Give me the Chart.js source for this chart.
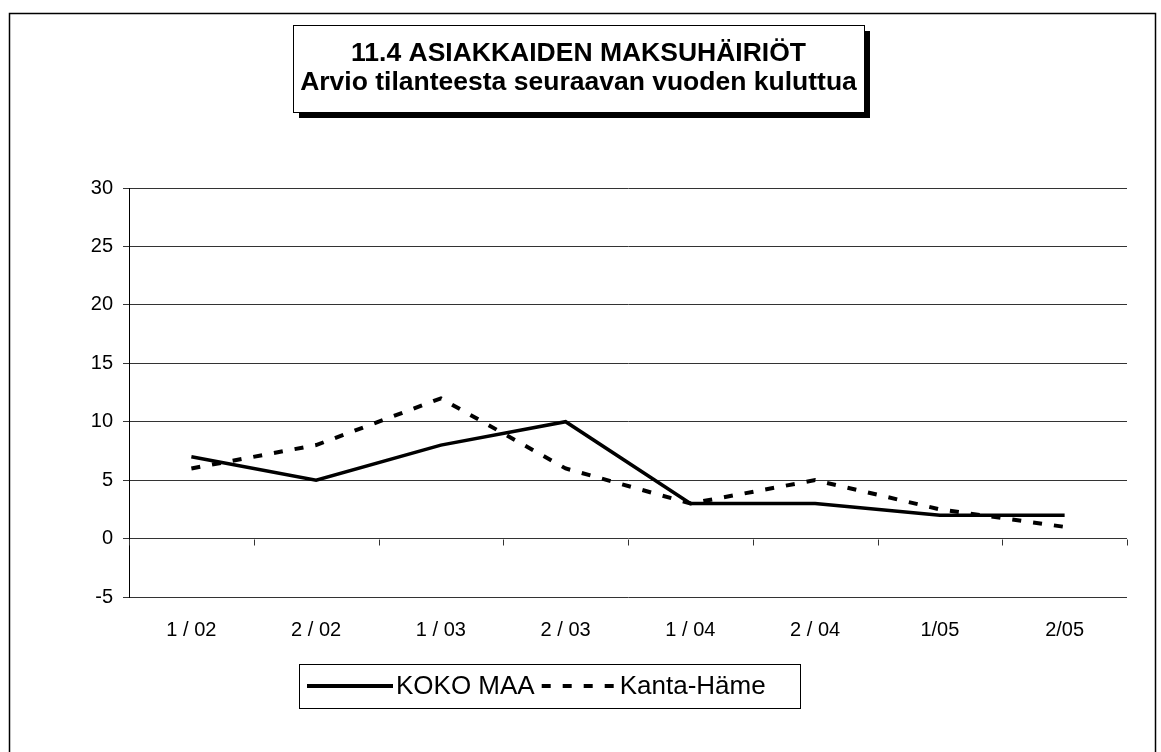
<!DOCTYPE html>
<html>
<head>
<meta charset="utf-8">
<script src="https://cdn.jsdelivr.net/npm/chart.js@4/dist/chart.umd.min.js"></script>
<style>
    html, body { margin: 0; padding: 0; background: #fff; }
    #wrap { width: 1161px; height: 752px; }
</style>
</head>
<body>
<div id="wrap"><canvas id="chart" width="1161" height="752"></canvas></div>
<script>
const categories = ['1 / 02', '2 / 02', '1 / 03', '2 / 03', '1 / 04', '2 / 04', '1/05', '2/05'];
const kokoMaa = [7, 5, 8, 10, 3, 3, 2, 2];
const kantaHame = [6, 8, 12, 6, 3, 5, 2.5, 1];
const seriesNames = ['KOKO MAA', 'Kanta-Häme'];
const titleLines = ['11.4 ASIAKKAIDEN MAKSUHÄIRIÖT', 'Arvio tilanteesta seuraavan vuoden kuluttua'];
const yMin = -5, yMax = 30, yStep = 5;

const FONT = 'Arial, "Liberation Sans", sans-serif';

// kehys, otsikkolaatikko, selite ja x-akselin väkäset nollaviivalla
const excelLook = {
    id: 'excelLook',
    beforeDraw(chart) {
        const ctx = chart.ctx;
        ctx.save();
        ctx.fillStyle = '#fff';
        ctx.fillRect(0, 0, chart.width, chart.height);
        ctx.strokeStyle = '#000';
        ctx.lineWidth = 1.5;
        ctx.strokeRect(9.5, 13.5, 1146, 760);
        ctx.restore();
    },
    afterDraw(chart) {
        const ctx = chart.ctx;
        const xs = chart.scales.x, ys = chart.scales.y;
        ctx.save();

        // väkäset nollan kohdalla
        const y0 = Math.round(ys.getPixelForValue(0)) + 0.5;
        const n = categories.length;
        ctx.strokeStyle = '#333';
        ctx.lineWidth = 1;
        ctx.beginPath();
        for (let i = 0; i <= n; i++) {
            const x = Math.round(xs.left + i * xs.width / n) + 0.5;
            ctx.moveTo(x, y0);
            ctx.lineTo(x, y0 + 6);
        }
        ctx.stroke();

        // otsikko varjon kanssa
        const tb = { x: 293, y: 25, w: 571, h: 87 };
        ctx.fillStyle = '#000';
        ctx.fillRect(tb.x + 6, tb.y + 6, tb.w, tb.h);
        ctx.fillStyle = '#fff';
        ctx.fillRect(tb.x, tb.y, tb.w, tb.h);
        ctx.strokeStyle = '#000';
        ctx.lineWidth = 1;
        ctx.strokeRect(tb.x + 0.5, tb.y + 0.5, tb.w, tb.h);
        ctx.fillStyle = '#000';
        ctx.font = 'bold 26.5px ' + FONT;
        ctx.textAlign = 'center';
        ctx.textBaseline = 'middle';
        titleLines.forEach((line, i) => {
            ctx.fillText(line, tb.x + tb.w / 2, 54 + i * 29);
        });

        // selite
        const lb = { x: 299, y: 664, w: 501, h: 44 };
        ctx.strokeStyle = '#000';
        ctx.lineWidth = 1;
        ctx.strokeRect(lb.x + 0.5, lb.y + 0.5, lb.w, lb.h);
        ctx.font = '26px ' + FONT;
        ctx.textAlign = 'left';
        const ly = lb.y + lb.h / 2;
        let lx = 307;
        chart.data.datasets.forEach(ds => {
            const dash = ds.borderDash || [];
            let len = 86;
            if (dash.length) {
                const period = dash[0] + dash[1];
                len = Math.floor((len + dash[1]) / period) * period - dash[1];
            }
            ctx.save();
            ctx.strokeStyle = ds.borderColor;
            ctx.lineWidth = 4;
            ctx.setLineDash(dash);
            ctx.beginPath();
            ctx.moveTo(lx, ly);
            ctx.lineTo(lx + len, ly);
            ctx.stroke();
            ctx.restore();
            lx += len + (dash.length ? 6 : 3);
            ctx.fillText(ds.label, lx, ly + 1);
            lx += ctx.measureText(ds.label).width + 7;
        });

        ctx.restore();
    }
};

new Chart(document.getElementById('chart').getContext('2d'), {
    type: 'line',
    data: {
        labels: categories,
        datasets: [{
            label: seriesNames[0],
            data: kokoMaa,
            borderColor: '#000',
            borderWidth: 3.5,
            pointRadius: 0,
            tension: 0,
            fill: false
        }, {
            label: seriesNames[1],
            data: kantaHame,
            borderColor: '#000',
            borderWidth: 4,
            borderDash: [9, 12],
            pointRadius: 0,
            tension: 0,
            fill: false
        }]
    },
    options: {
        responsive: false,
        animation: false,
        devicePixelRatio: 1,
        layout: { padding: { left: 20, top: 188, right: 34, bottom: 95 } },
        plugins: {
            legend: { display: false },
            title: { display: false },
            tooltip: { enabled: false }
        },
        scales: {
            x: {
                offset: true,
                grid: { display: false, drawTicks: false },
                border: { display: false },
                ticks: {
                    color: '#000',
                    font: { family: FONT, size: 20 },
                    padding: 21,
                    maxRotation: 0,
                    autoSkip: false
                },
                afterFit(scale) { scale.height = 60; }
            },
            y: {
                min: yMin,
                max: yMax,
                grid: { color: '#333', lineWidth: 1, tickLength: 6, tickColor: '#333' },
                border: { display: true, color: '#000', width: 1 },
                ticks: {
                    stepSize: yStep,
                    color: '#000',
                    font: { family: FONT, size: 20 },
                    padding: 10
                },
                afterFit(scale) { scale.width = 109; }
            }
        }
    },
    plugins: [excelLook]
});
</script>
</body>
</html>
